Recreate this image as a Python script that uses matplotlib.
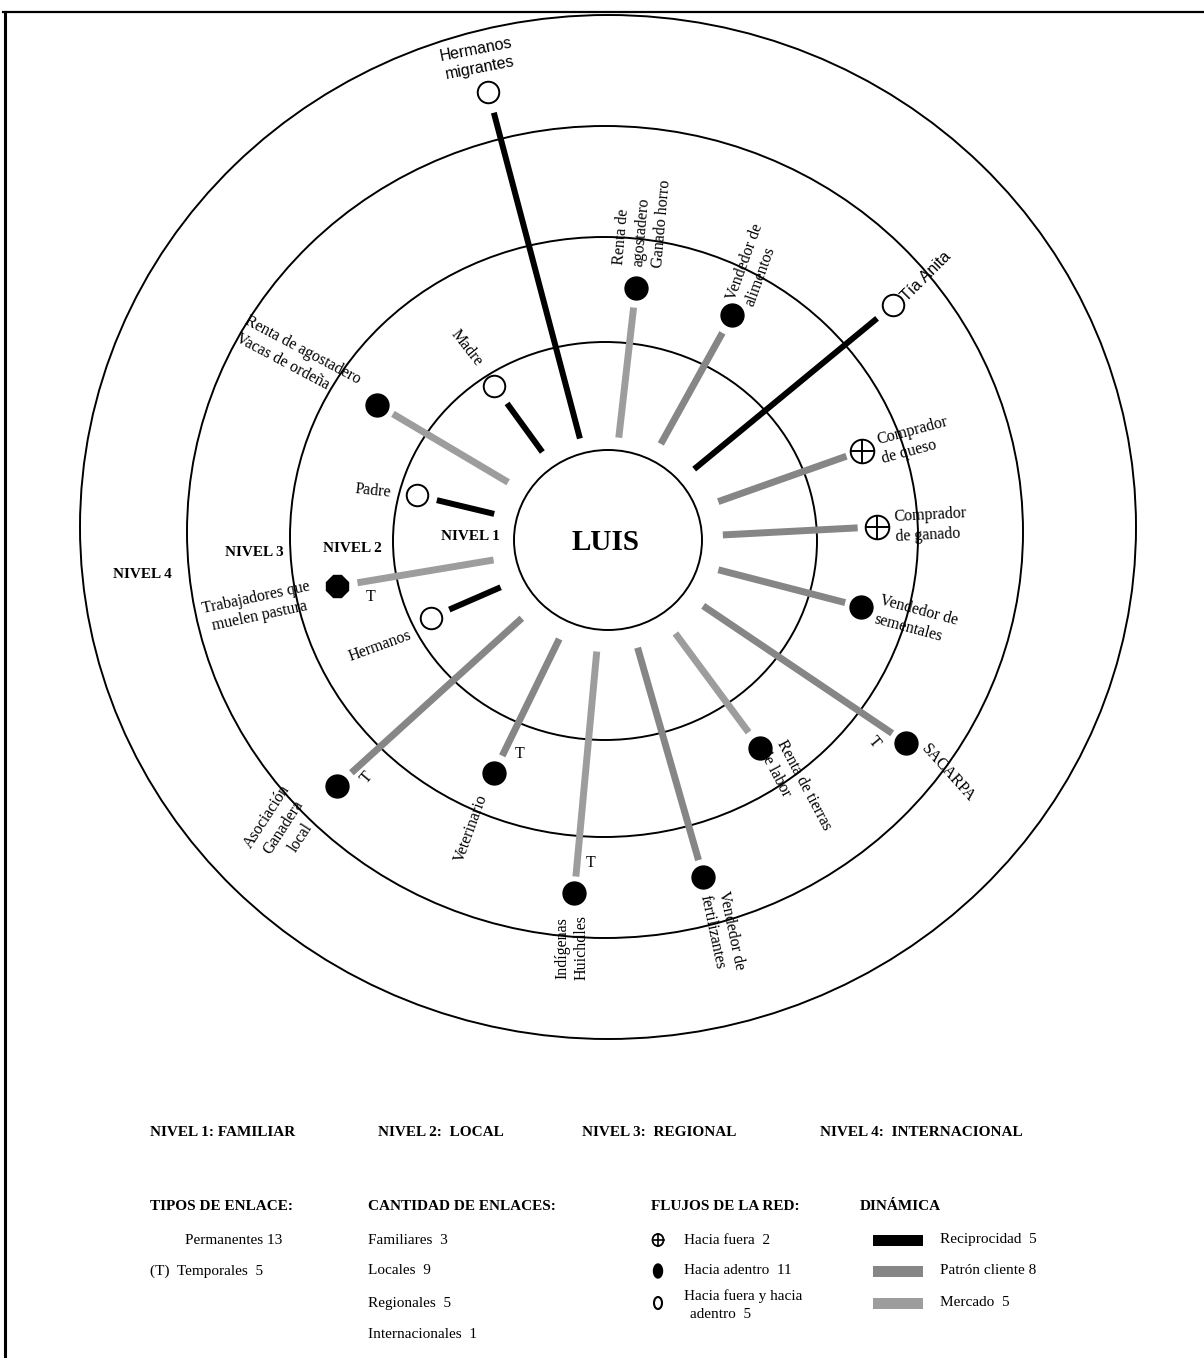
import matplotlib
matplotlib.use("Agg")
import matplotlib.pyplot as plt
from matplotlib.patches import Ellipse, Rectangle
import numpy as np

plt.rcParams['font.family'] = ['Liberation Serif', 'DejaVu Serif']

# ---------------- datos de la red ----------------
nombres = ["Hermanos\nmigrantes", "Madre", "Padre", "Hermanos", "Tía Anita",
           "Renta de\nagostadero\nGanado horro", "Vendedor de\nalimentos",
           "Comprador\nde queso", "Comprador\nde ganado", "Vendedor de\nsementales",
           "SACARPA", "Renta de tierras\nde labor", "Vendedor de\nfertilizantes",
           "Indígenas\nHuichdles", "Veterinario", "Asociación\nGanadera\nlocal",
           "Trabajadores que\nmuelen pastura", "Renta de agostadero\nVacas de ordeña"]
# angulo (grados, antihorario desde el este) y distancias al centro (px)
angulos = [104.8, 126.0, 166.5, 203.5, 39.5, 83.5, 61.0, 19.5, 3.0, -14.5,
           -34.0, -53.5, -74.0, -95.3, -116.0, -137.8, 189.5, 149.3]
radio_nodo = [464, 192, 195, 192, 371, 255, 258, 271, 270, 262,
              361, 258, 350, 354, 258, 365, 274, 267]
radio_ini = [106, 110, 116, 116, 113, 104, 111, 118, 116, 115,
             116, 115, 111, 111, 109, 115, 115, 115]
radio_fin = [443, 170, 175, 172, 350, 235, 238, 254, 251, 246,
             344, 238, 332, 337, 239, 345, 253, 249]
nivel = [4, 1, 1, 1, 3, 2, 2, 2, 2, 2, 3, 2, 3, 3, 2, 3, 2, 2]
dinamica = ["R", "R", "R", "R", "R", "M", "P", "P", "P", "P",
            "P", "M", "P", "M", "P", "P", "M", "M"]
flujo = ["ambos", "ambos", "ambos", "ambos", "ambos", "adentro", "adentro",
         "fuera", "fuera", "adentro", "adentro", "adentro", "adentro",
         "adentro", "adentro", "adentro", "adentro", "adentro"]
temporal = [False, False, False, False, False, False, False, False, False, False,
            True, False, False, True, True, True, True, False]

# ---------------- estilos / disposicion ----------------
colores = {"R": "#000000", "P": "#868686", "M": "#9d9d9d"}
anchos = {"R": 4.3, "P": 5.0, "M": 5.0}
centro = (607, 541)
anillos = [(608, 540, 94, 90), (605, 541, 212, 199), (604, 537, 314, 300),
           (605, 532, 418, 406), (608, 527, 528, 512)]
# posicion del texto de cada nodo: x, y, rotacion, alineacion multilinea
etiquetas = [(478, 59, 11, "center"), (467, 348, -52, "center"), (373, 491, -6, "center"),
             (380, 646, 20, "center"), (926, 276, 45, "left"), (642, 222, 85, "left"),
             (754, 265, 70, "left"), (915, 440, 15, "left"), (931, 525, 3, "left"),
             (916, 620, -15, "left"), (948, 773, -48, "left"), (795, 790, -62, "left"),
             (722, 932, -78, "left"), (572, 948, 90, "center"), (471, 828, 70, "center"),
             (284, 827, 57, "center"), (258, 607, 12, "center"), (298, 359, -28, "left")]
sans = {0, 4}
pos_t = {10: (874, 742, -50), 13: (591, 863, 0), 14: (520, 754, 0),
         15: (367, 778, 50), 16: (371, 597, 0)}

fig = plt.figure(figsize=(12.04, 13.58), dpi=100)
ax = fig.add_axes([0, 0, 1, 1])
ax.set_xlim(0, 1204)
ax.set_ylim(1358, 0)
ax.axis("off")

# marco
ax.plot([3, 1204], [12, 12], color="black", lw=1.6)
ax.plot([5, 5], [12, 1358], color="black", lw=2.2)

# anillos
for cx, cy, rx, ry in anillos:
    ax.add_patch(Ellipse((cx, cy), 2 * rx, 2 * ry, fill=False, ec="black", lw=1.4))

cx0, cy0 = centro
for i, nom in enumerate(nombres):
    a = np.radians(angulos[i])
    ux, uy = np.cos(a), -np.sin(a)
    ax.plot([cx0 + radio_ini[i] * ux, cx0 + radio_fin[i] * ux],
            [cy0 + radio_ini[i] * uy, cy0 + radio_fin[i] * uy],
            color=colores[dinamica[i]], lw=anchos[dinamica[i]], solid_capstyle="butt")
    nx, ny = cx0 + radio_nodo[i] * ux, cy0 + radio_nodo[i] * uy
    if flujo[i] == "adentro":
        mk = "8" if i == 16 else "o"
        ax.plot(nx, ny, marker=mk, ms=16.5, color="black", mec="black")
    elif flujo[i] == "ambos":
        ax.plot(nx, ny, marker="o", ms=15.5, mfc="white", mec="black", mew=1.4)
    else:
        ax.plot(nx, ny, marker="o", ms=17, mfc="white", mec="black", mew=1.4)
        ax.plot(nx, ny, marker="+", ms=17, color="black", mew=1.4)
    tx, ty, rot, mal = etiquetas[i]
    fam = ['Liberation Sans', 'DejaVu Sans'] if i in sans else ['Liberation Serif', 'DejaVu Serif']
    ax.text(tx, ty, nom, rotation=rot, rotation_mode="anchor", ha="center", va="center",
            multialignment=mal, fontsize=11.5, linespacing=1.3, family=fam)
    if temporal[i]:
        px, py, prot = pos_t[i]
        ax.text(px, py, "T", rotation=prot, rotation_mode="anchor", ha="center",
                va="center", fontsize=11.5)

ax.text(605, 543, "LUIS", fontsize=21, fontweight="bold", ha="center", va="center")
for txt, x, y in [("NIVEL 1", 470, 537), ("NIVEL 2", 352, 549),
                  ("NIVEL 3", 254, 553), ("NIVEL 4", 142, 574)]:
    ax.text(x, y, txt, fontsize=11, fontweight="bold", ha="center", va="center")

# ---------------- leyenda ----------------
fs = 11
niv_txt = ["NIVEL 1: FAMILIAR", "NIVEL 2:  LOCAL", "NIVEL 3:  REGIONAL", "NIVEL 4:  INTERNACIONAL"]
for txt, x in zip(niv_txt, [150, 378, 582, 820]):
    ax.text(x, 1133, txt, fontsize=fs, fontweight="bold", va="center")

for txt, x in zip(["TIPOS DE ENLACE:", "CANTIDAD DE ENLACES:", "FLUJOS DE LA RED:", "DINÁMICA"],
                  [150, 368, 651, 860]):
    ax.text(x, 1207, txt, fontsize=fs, fontweight="bold", va="center")

n_temp = sum(temporal)
ax.text(185, 1240, f"Permanentes {len(nombres) - n_temp}", fontsize=fs, va="center")
ax.text(150, 1271, f"(T)  Temporales  {n_temp}", fontsize=fs, va="center")

for j, (txt, y) in enumerate(zip(["Familiares", "Locales", "Regionales", "Internacionales"],
                                 [1240, 1271, 1303, 1334])):
    ax.text(368, y, f"{txt}  {nivel.count(j + 1)}", fontsize=fs, va="center")

ax.add_patch(Ellipse((658, 1240), 11, 12, fill=False, ec="black", lw=1.3))
ax.plot([652.5, 663.5], [1240, 1240], color="black", lw=1.2)
ax.plot([658, 658], [1234, 1246], color="black", lw=1.2)
ax.add_patch(Ellipse((658, 1271), 9, 14, fc="black", ec="black"))
ax.add_patch(Ellipse((658, 1303), 8, 12, fill=False, ec="black", lw=1.5))
ax.text(684, 1240, f"Hacia fuera  {flujo.count('fuera')}", fontsize=fs, va="center")
ax.text(684, 1271, f"Hacia adentro  {flujo.count('adentro')}", fontsize=fs, va="center")
ax.text(684, 1296, "Hacia fuera y hacia", fontsize=fs, va="center")
ax.text(690, 1315, f"adentro  {flujo.count('ambos')}", fontsize=fs, va="center")

for clave, txt, y in [("R", "Reciprocidad  ", 1240), ("P", "Patrón cliente ", 1271),
                      ("M", "Mercado  ", 1303)]:
    ax.add_patch(Rectangle((873, y - 5.5), 50, 11, fc=colores[clave], ec="none"))
    ax.text(940, y, f"{txt}{dinamica.count(clave)}", fontsize=fs, va="center")

fig.savefig("out.png", dpi=100)
